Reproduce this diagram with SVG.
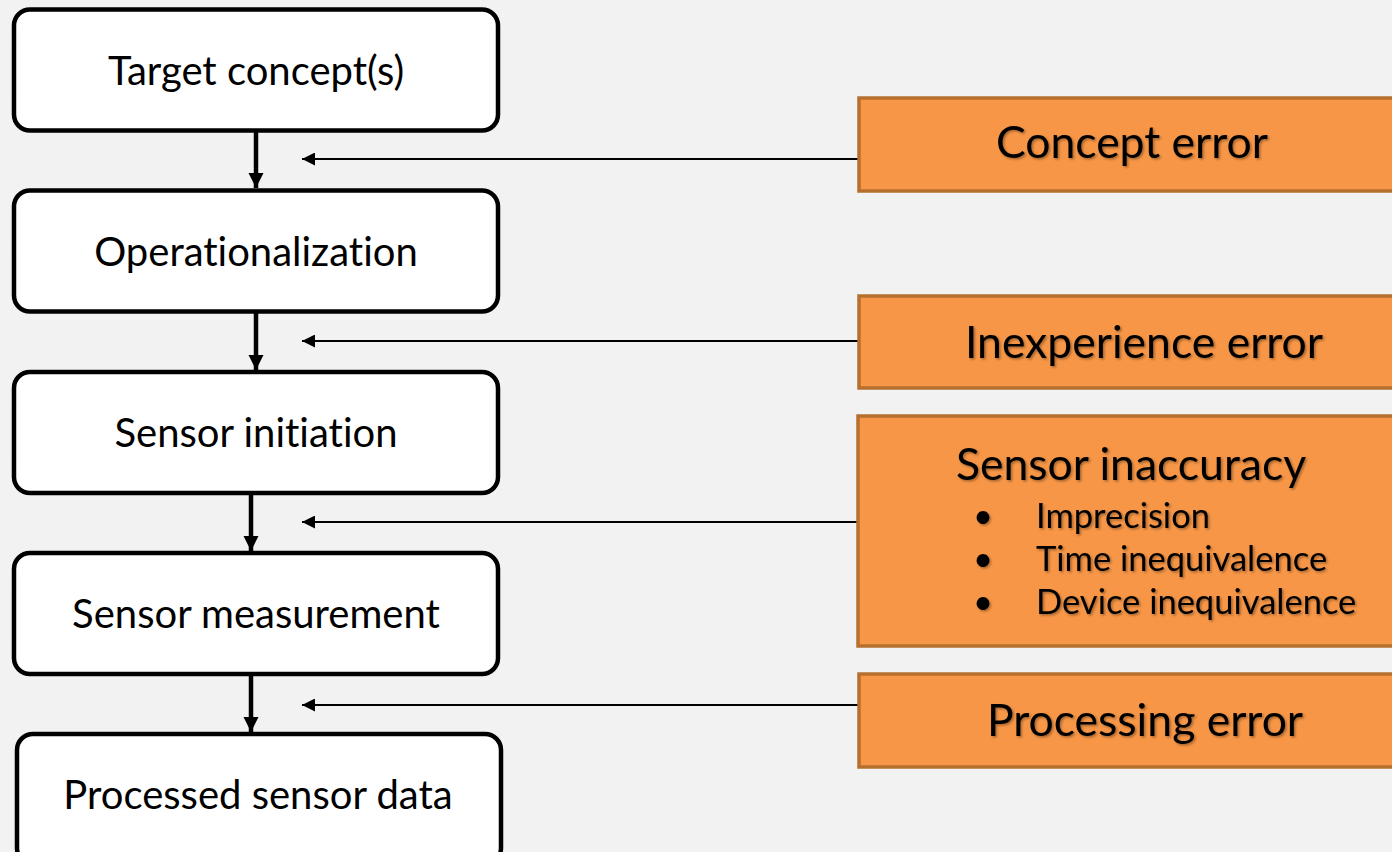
<svg xmlns="http://www.w3.org/2000/svg" width="1392" height="852" viewBox="0 0 1392 852">
<defs>
<style>
.node rect{fill:#FFFFFF;stroke:#000000;stroke-width:4.5}
.err rect{fill:#F79646;stroke:#B5702F;stroke-width:3.5}
text{font-family:Lato,"Liberation Sans",sans-serif;fill:#000000;font-variant-ligatures:none}
.nt{font-size:40px;text-anchor:middle}
.et{font-size:44.5px;text-anchor:middle;filter:url(#sh)}
.bt{font-size:34.5px;filter:url(#sh)}
.v{stroke:#000;stroke-width:4.5;fill:none}
.h{stroke:#000;stroke-width:2;fill:none}
</style>
<filter id="sh" x="-10%" y="-30%" width="120%" height="160%">
<feDropShadow dx="1.5" dy="1.5" stdDeviation="1" flood-color="#000" flood-opacity="0.35"/>
</filter>
<marker id="ah" viewBox="0 0 10 10" refX="10" refY="5" markerWidth="3.4" markerHeight="3.4" orient="auto" markerUnits="strokeWidth">
<path d="M0,0 L10,5 L0,10 z" fill="#000"/>
</marker>
<marker id="ah2" viewBox="0 0 10 10" refX="10" refY="5" markerWidth="8" markerHeight="6.5" orient="auto" markerUnits="strokeWidth">
<path d="M0,0 L10,5 L0,10 z" fill="#000"/>
</marker>
</defs>
<rect width="1392" height="852" fill="#F2F2F2"/>

<g id="connectors">
<line class="v" x1="256" y1="132" x2="256" y2="188" marker-end="url(#ah)"/>
<line class="v" x1="256" y1="313" x2="256" y2="370" marker-end="url(#ah)"/>
<line class="v" x1="251" y1="494" x2="251" y2="551" marker-end="url(#ah)"/>
<line class="v" x1="251" y1="675" x2="251" y2="732" marker-end="url(#ah)"/>
<line class="h" x1="859" y1="159" x2="302" y2="159" marker-end="url(#ah2)"/>
<line class="h" x1="859" y1="341" x2="302" y2="341" marker-end="url(#ah2)"/>
<line class="h" x1="859" y1="522" x2="302" y2="522" marker-end="url(#ah2)"/>
<line class="h" x1="859" y1="705" x2="302" y2="705" marker-end="url(#ah2)"/>
</g>

<g id="target-concepts" class="node">
<rect x="14" y="9.5" width="484" height="121" rx="16"/>
<text class="nt" x="256" y="85">Target concept(s)</text>
</g>
<g id="operationalization" class="node">
<rect x="14" y="190.5" width="484" height="121" rx="16"/>
<text class="nt" x="256" y="266">Operationalization</text>
</g>
<g id="sensor-initiation" class="node">
<rect x="14" y="372" width="484" height="121" rx="16"/>
<text class="nt" x="256" y="447">Sensor initiation</text>
</g>
<g id="sensor-measurement" class="node">
<rect x="14" y="553" width="484" height="121" rx="16"/>
<text class="nt" x="256" y="628">Sensor measurement</text>
</g>
<g id="processed-sensor-data" class="node">
<rect x="17" y="734" width="484" height="130" rx="16"/>
<text class="nt" x="258" y="809">Processed sensor data</text>
</g>

<g id="concept-error" class="err">
<rect x="859" y="98" width="560" height="93"/>
<text class="et" x="1132" y="158">Concept error</text>
</g>
<g id="inexperience-error" class="err">
<rect x="859" y="296" width="560" height="92"/>
<text class="et" x="1144" y="358">Inexperience error</text>
</g>
<g id="sensor-inaccuracy" class="err">
<rect x="858" y="416" width="560" height="230"/>
<text class="et" x="1131" y="480">Sensor inaccuracy</text>
<text class="bt" x="973" y="528">•</text>
<text class="bt" x="1036" y="528">Imprecision</text>
<text class="bt" x="973" y="571">•</text>
<text class="bt" x="1036" y="571">Time inequivalence</text>
<text class="bt" x="973" y="614">•</text>
<text class="bt" x="1036" y="614">Device inequivalence</text>
</g>
<g id="processing-error" class="err">
<rect x="859" y="674" width="560" height="93"/>
<text class="et" x="1145" y="736">Processing error</text>
</g>
</svg>
